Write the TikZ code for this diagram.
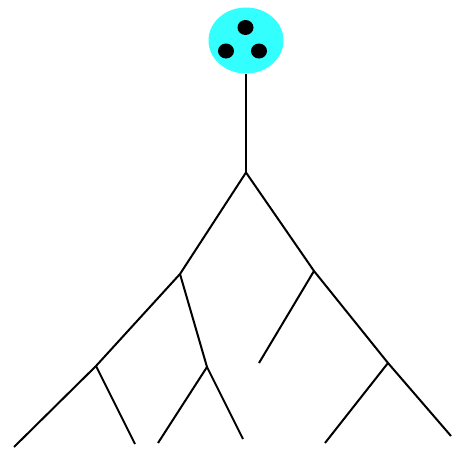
\documentclass[tikz,border=0pt]{standalone}
\usetikzlibrary{shapes.geometric}
\definecolor{aquafill}{RGB}{51,255,255}
\begin{document}
\begin{tikzpicture}[x=1pt,y=-1pt,
  branch/.style={line width=2pt, black},
  dot/.style={fill=black, draw=none, ellipse, minimum width=16pt, minimum height=15pt, inner sep=0pt},
  rootnode/.style={fill=aquafill, draw=none, ellipse, minimum width=75pt, minimum height=66pt, inner sep=0pt}]
\useasboundingbox (0,0) rectangle (459,450);
\node[rootnode] (root) at (246,40.5) {};
\node[dot] (d1) at (245.5,27.5) {};
\node[dot] (d2) at (226,51) {};
\node[dot] (d3) at (259,51) {};
\coordinate (top) at (246,172.5);
\coordinate (L) at (180,274);
\coordinate (LL) at (96,366);
\coordinate (LLa) at (14,447);
\coordinate (LLb) at (135,444);
\coordinate (LR) at (207,367);
\coordinate (LRa) at (158,443);
\coordinate (LRb) at (243,439);
\coordinate (R) at (314,271);
\coordinate (RL) at (259,363);
\coordinate (RR) at (388,363);
\coordinate (RRa) at (325,443);
\coordinate (RRb) at (451,436);
\draw[branch] (root.south) -- (top);
\draw[branch] (top) -- (L) -- (LL) -- (LLa);
\draw[branch] (LL) -- (LLb);
\draw[branch] (L) -- (LR) -- (LRa);
\draw[branch] (LR) -- (LRb);
\draw[branch] (top) -- (R) -- (RR) -- (RRb);
\draw[branch] (R) -- (RL);
\draw[branch] (RR) -- (RRa);
\end{tikzpicture}
\end{document}
